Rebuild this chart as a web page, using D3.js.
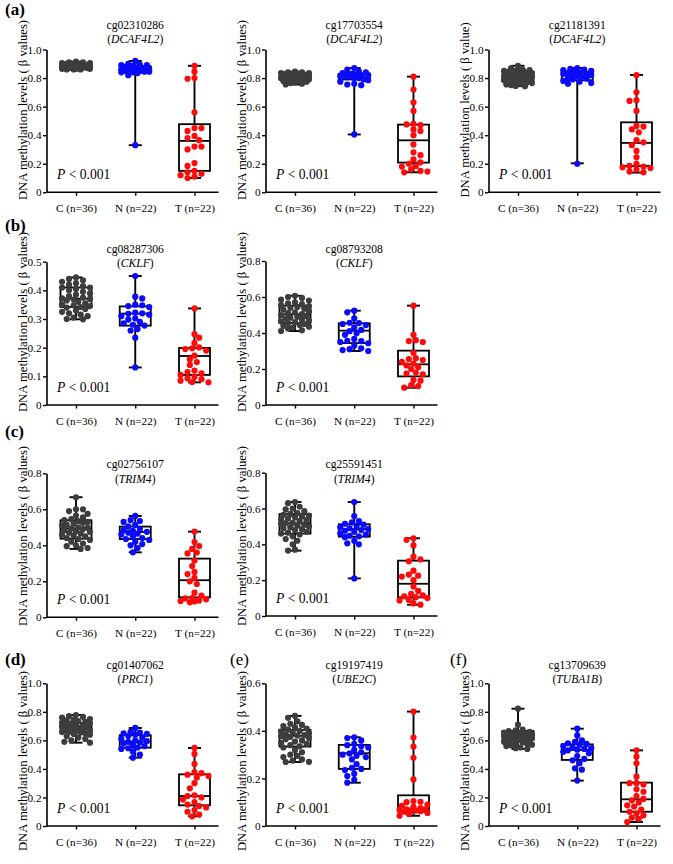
<!DOCTYPE html>
<html>
<head>
<meta charset="utf-8">
<script src="https://cdn.jsdelivr.net/npm/d3@7"></script>
<style>
  html, body { margin: 0; padding: 0; background: #fff; }
  svg { display: block; }
  text { font-family: "Liberation Serif", "Times New Roman", serif; fill: #000; }
</style>
</head>
<body>
<svg id="chart" width="673" height="864"></svg>
<script>
// ---------------- DATA ----------------
const categories = ["C (n=36)", "N (n=22)", "T (n=22)"];
const probes = ["cg02310286", "cg17703554", "cg21181391", "cg08287306", "cg08793208",
                "cg02756107", "cg25591451", "cg01407062", "cg19197419", "cg13709639"];
const genes = ["DCAF4L2", "DCAF4L2", "DCAF4L2", "CKLF", "CKLF", "TRIM4", "TRIM4", "PRC1", "UBE2C", "TUBA1B"];
const yLabels = ["DNA methylation levels ( \u03b2 values)", "DNA methylation levels ( \u03b2 values)",
                 "DNA methylation levels ( \u03b2 value)", "DNA methylation levels ( \u03b2 values)",
                 "DNA methylation levels ( \u03b2 values)", "DNA methylation levels ( \u03b2 values)",
                 "DNA methylation levels ( \u03b2 values)", "DNA methylation levels ( \u03b2 values)",
                 "DNA methylation levels ( \u03b2 values)", "DNA methylation levels ( \u03b2 values)"];
const yMax = [1.0, 1.0, 1.0, 0.5, 0.8, 0.8, 0.8, 1.0, 0.6, 1.0];
const yTickValues = [
  [0, 0.2, 0.4, 0.6, 0.8, 1.0], [0, 0.2, 0.4, 0.6, 0.8, 1.0], [0, 0.2, 0.4, 0.6, 0.8, 1.0],
  [0, 0.1, 0.2, 0.3, 0.4, 0.5], [0, 0.2, 0.4, 0.6, 0.8], [0, 0.2, 0.4, 0.6, 0.8],
  [0, 0.2, 0.4, 0.6, 0.8], [0, 0.2, 0.4, 0.6, 0.8, 1.0], [0, 0.2, 0.4, 0.6], [0, 0.2, 0.4, 0.6, 0.8, 1.0]
];
const pLabel = "< 0.001";
const panelLetters = ["(a)", "(b)", "(c)", "(d)", "(e)", "(f)"];

// points (beta values)
const cg02310286_C = [0.915,0.91,0.91,0.905,0.905,0.90,0.90,0.90,0.895,0.895,0.895,0.89,0.89,0.89,0.89,0.885,0.885,0.885,0.885,0.88,0.88,0.88,0.88,0.875,0.875,0.875,0.87,0.87,0.87,0.87,0.865,0.865,0.865,0.86,0.86,0.86];
const cg02310286_N = [0.92,0.90,0.895,0.89,0.89,0.885,0.88,0.875,0.87,0.865,0.86,0.86,0.855,0.85,0.85,0.845,0.845,0.84,0.84,0.835,0.82,0.33];
const cg02310286_T = [0.886,0.845,0.80,0.795,0.56,0.45,0.45,0.43,0.395,0.38,0.365,0.32,0.32,0.30,0.205,0.185,0.15,0.14,0.13,0.12,0.11,0.10];

const cg17703554_C = [0.845,0.84,0.84,0.835,0.835,0.83,0.83,0.83,0.825,0.825,0.82,0.82,0.815,0.815,0.81,0.81,0.81,0.805,0.805,0.80,0.80,0.80,0.795,0.795,0.79,0.79,0.79,0.785,0.785,0.78,0.78,0.775,0.77,0.765,0.76,0.755];
const cg17703554_N = [0.87,0.86,0.845,0.84,0.835,0.83,0.83,0.825,0.82,0.82,0.815,0.81,0.81,0.80,0.80,0.79,0.785,0.775,0.76,0.755,0.75,0.405];
const cg17703554_T = [0.81,0.72,0.63,0.57,0.48,0.475,0.47,0.44,0.43,0.40,0.335,0.28,0.26,0.23,0.21,0.20,0.185,0.18,0.16,0.15,0.145,0.14];

const cg21181391_C = [0.886,0.87,0.86,0.855,0.85,0.85,0.845,0.845,0.84,0.835,0.83,0.83,0.825,0.82,0.82,0.815,0.815,0.81,0.81,0.805,0.80,0.80,0.795,0.79,0.79,0.785,0.785,0.78,0.775,0.77,0.765,0.76,0.755,0.75,0.745,0.743];
const cg21181391_N = [0.87,0.865,0.86,0.855,0.85,0.845,0.84,0.835,0.83,0.83,0.825,0.82,0.815,0.81,0.80,0.795,0.79,0.78,0.775,0.765,0.76,0.20];
const cg21181391_T = [0.82,0.70,0.645,0.64,0.57,0.465,0.46,0.44,0.42,0.365,0.35,0.33,0.29,0.245,0.20,0.185,0.18,0.175,0.17,0.16,0.145,0.14];

const cg08287306_C = [0.445,0.44,0.435,0.43,0.425,0.42,0.415,0.41,0.41,0.405,0.40,0.395,0.39,0.385,0.38,0.375,0.372,0.37,0.368,0.365,0.36,0.355,0.35,0.348,0.345,0.342,0.34,0.335,0.33,0.325,0.32,0.315,0.31,0.305,0.30,0.299];
const cg08287306_N = [0.45,0.378,0.372,0.35,0.348,0.345,0.342,0.322,0.32,0.318,0.315,0.31,0.302,0.298,0.29,0.285,0.28,0.277,0.265,0.26,0.235,0.131];
const cg08287306_T = [0.337,0.247,0.235,0.217,0.201,0.198,0.195,0.19,0.172,0.16,0.15,0.14,0.12,0.115,0.11,0.105,0.099,0.093,0.09,0.085,0.08,0.079];

const cg08793208_C = [0.607,0.60,0.595,0.585,0.58,0.57,0.565,0.56,0.555,0.55,0.545,0.54,0.535,0.53,0.52,0.515,0.51,0.505,0.50,0.495,0.49,0.485,0.48,0.475,0.47,0.465,0.46,0.455,0.45,0.445,0.44,0.435,0.43,0.425,0.415,0.411];
const cg08793208_N = [0.524,0.515,0.481,0.457,0.455,0.45,0.444,0.431,0.417,0.41,0.398,0.39,0.367,0.357,0.355,0.35,0.343,0.33,0.315,0.31,0.305,0.30];
const cg08793208_T = [0.552,0.39,0.36,0.355,0.35,0.29,0.26,0.255,0.25,0.24,0.23,0.22,0.21,0.20,0.18,0.175,0.17,0.14,0.135,0.11,0.105,0.096];

const cg02756107_C = [0.667,0.60,0.60,0.59,0.575,0.565,0.555,0.545,0.54,0.535,0.53,0.525,0.52,0.515,0.51,0.50,0.497,0.494,0.49,0.485,0.48,0.475,0.47,0.465,0.46,0.455,0.45,0.44,0.435,0.43,0.42,0.41,0.40,0.395,0.385,0.38];
const cg02756107_N = [0.563,0.54,0.535,0.53,0.513,0.505,0.49,0.485,0.48,0.475,0.47,0.465,0.46,0.45,0.44,0.435,0.43,0.42,0.407,0.40,0.385,0.361];
const cg02756107_T = [0.476,0.418,0.396,0.38,0.36,0.355,0.315,0.285,0.252,0.24,0.219,0.20,0.185,0.137,0.12,0.106,0.105,0.10,0.095,0.09,0.088,0.083];

const cg25591451_C = [0.636,0.63,0.61,0.60,0.595,0.585,0.575,0.57,0.565,0.56,0.555,0.55,0.545,0.54,0.535,0.53,0.52,0.518,0.516,0.51,0.505,0.50,0.495,0.49,0.485,0.48,0.47,0.465,0.46,0.455,0.445,0.43,0.42,0.40,0.37,0.365];
const cg25591451_N = [0.636,0.558,0.53,0.523,0.515,0.51,0.502,0.495,0.49,0.485,0.48,0.476,0.47,0.46,0.455,0.448,0.445,0.44,0.42,0.406,0.40,0.21];
const cg25591451_T = [0.434,0.425,0.394,0.331,0.316,0.305,0.253,0.231,0.225,0.22,0.20,0.164,0.14,0.123,0.115,0.11,0.105,0.10,0.09,0.087,0.07,0.063];

const cg01407062_C = [0.778,0.77,0.765,0.76,0.75,0.745,0.74,0.735,0.73,0.725,0.72,0.715,0.71,0.705,0.70,0.695,0.692,0.69,0.688,0.685,0.68,0.675,0.67,0.665,0.66,0.658,0.655,0.65,0.645,0.64,0.63,0.62,0.61,0.60,0.59,0.584];
const cg01407062_N = [0.687,0.66,0.655,0.65,0.645,0.64,0.63,0.62,0.61,0.60,0.595,0.59,0.585,0.58,0.57,0.56,0.55,0.545,0.54,0.521,0.50,0.479];
const cg01407062_T = [0.547,0.505,0.435,0.378,0.37,0.36,0.35,0.339,0.30,0.264,0.215,0.21,0.20,0.185,0.168,0.15,0.14,0.13,0.112,0.10,0.08,0.068];

const cg19197419_C = [0.463,0.455,0.44,0.43,0.425,0.42,0.415,0.41,0.405,0.40,0.398,0.395,0.39,0.385,0.382,0.38,0.378,0.375,0.37,0.365,0.36,0.355,0.35,0.345,0.34,0.335,0.33,0.32,0.31,0.30,0.295,0.29,0.28,0.275,0.27,0.269];
const cg19197419_N = [0.373,0.37,0.36,0.345,0.34,0.335,0.33,0.32,0.31,0.305,0.30,0.295,0.29,0.28,0.26,0.245,0.24,0.235,0.22,0.21,0.194,0.182];
const cg19197419_T = [0.481,0.372,0.334,0.287,0.196,0.105,0.102,0.10,0.09,0.085,0.08,0.075,0.07,0.07,0.068,0.066,0.065,0.062,0.06,0.055,0.05,0.043];

const cg13709639_C = [0.822,0.71,0.675,0.67,0.665,0.66,0.655,0.65,0.648,0.645,0.64,0.638,0.635,0.633,0.63,0.628,0.625,0.62,0.618,0.615,0.61,0.608,0.605,0.603,0.60,0.595,0.59,0.585,0.58,0.575,0.57,0.565,0.56,0.55,0.545,0.54];
const cg13709639_N = [0.682,0.635,0.60,0.59,0.58,0.575,0.57,0.56,0.55,0.545,0.54,0.535,0.53,0.52,0.51,0.49,0.47,0.46,0.44,0.404,0.395,0.318];
const cg13709639_T = [0.53,0.486,0.439,0.346,0.30,0.30,0.29,0.257,0.24,0.21,0.19,0.18,0.165,0.145,0.136,0.115,0.10,0.089,0.075,0.058,0.05,0.028];

// box statistics [min, Q1, median, Q3, max] per group
const box_cg02310286 = [[0.86,0.872,0.885,0.895,0.915],[0.33,0.848,0.862,0.883,0.92],[0.10,0.15,0.36,0.477,0.886]];
const box_cg17703554 = [[0.755,0.79,0.808,0.827,0.845],[0.405,0.79,0.81,0.83,0.87],[0.14,0.208,0.364,0.474,0.81]];
const box_cg21181391 = [[0.743,0.785,0.813,0.843,0.886],[0.203,0.785,0.827,0.843,0.871],[0.138,0.185,0.346,0.49,0.822]];
const box_cg08287306 = [[0.299,0.342,0.371,0.41,0.445],[0.131,0.277,0.319,0.344,0.45],[0.079,0.105,0.171,0.199,0.337]];
const box_cg08793208 = [[0.411,0.456,0.504,0.552,0.607],[0.30,0.344,0.413,0.454,0.524],[0.096,0.159,0.226,0.302,0.552]];
const box_cg02756107 = [[0.38,0.437,0.494,0.539,0.667],[0.361,0.435,0.474,0.504,0.563],[0.083,0.111,0.206,0.326,0.476]];
const box_cg25591451 = [[0.365,0.46,0.517,0.569,0.636],[0.21,0.443,0.485,0.512,0.636],[0.063,0.104,0.18,0.309,0.434]];
const box_cg01407062 = [[0.584,0.659,0.692,0.72,0.778],[0.479,0.549,0.591,0.636,0.687],[0.068,0.145,0.21,0.362,0.547]];
const box_cg19197419 = [[0.269,0.334,0.379,0.404,0.463],[0.182,0.24,0.306,0.341,0.373],[0.043,0.06,0.067,0.129,0.481]];
const box_cg13709639 = [[0.54,0.603,0.633,0.666,0.822],[0.318,0.463,0.533,0.572,0.682],[0.028,0.1,0.187,0.304,0.53]];

const pointsByPanel = [
  [cg02310286_C, cg02310286_N, cg02310286_T], [cg17703554_C, cg17703554_N, cg17703554_T],
  [cg21181391_C, cg21181391_N, cg21181391_T], [cg08287306_C, cg08287306_N, cg08287306_T],
  [cg08793208_C, cg08793208_N, cg08793208_T], [cg02756107_C, cg02756107_N, cg02756107_T],
  [cg25591451_C, cg25591451_N, cg25591451_T], [cg01407062_C, cg01407062_N, cg01407062_T],
  [cg19197419_C, cg19197419_N, cg19197419_T], [cg13709639_C, cg13709639_N, cg13709639_T]
];
const boxesByPanel = [box_cg02310286, box_cg17703554, box_cg21181391, box_cg08287306, box_cg08793208,
  box_cg02756107, box_cg25591451, box_cg01407062, box_cg19197419, box_cg13709639];

// ---------------- LAYOUT ----------------
const groupColors = ["#3d3d3d", "#0a0aff", "#ff0a0a"];
// axis x, pixel of 0, pixel of yMax, title baselines, y-label centre
const layout = [
  {ax: 46.5,  y0: 192.3, yT: 49.5,  t1: 29,    t2: 42.5,  lc: 110},
  {ax: 265.5, y0: 192.3, yT: 49.5,  t1: 29,    t2: 42.5,  lc: 110},
  {ax: 488.5, y0: 192.3, yT: 49.5,  t1: 29,    t2: 42.5,  lc: 110},
  {ax: 46.5,  y0: 405,   yT: 261.7, t1: 253,   t2: 267,   lc: 322},
  {ax: 265.5, y0: 405,   yT: 261,   t1: 253,   t2: 267,   lc: 322},
  {ax: 46.5,  y0: 617.3, yT: 473.3, t1: 467.5, t2: 482.5, lc: 536},
  {ax: 265.5, y0: 616,   yT: 472.7, t1: 467.5, t2: 482.5, lc: 536},
  {ax: 46.5,  y0: 826,   yT: 683.3, t1: 669,   t2: 683,   lc: 761},
  {ax: 265.5, y0: 826,   yT: 683.3, t1: 669,   t2: 683,   lc: 761},
  {ax: 488.5, y0: 826,   yT: 683.3, t1: 669,   t2: 683,   lc: 761}
];
const letterPos = [
  {x: 5, y: 15, bold: true}, {x: 5, y: 231, bold: true}, {x: 5, y: 437, bold: true},
  {x: 5, y: 665, bold: true}, {x: 230, y: 665, bold: false}, {x: 450, y: 665, bold: false}
];

const svg = d3.select("#chart");
svg.append("rect").attr("width", 673).attr("height", 864).attr("fill", "#fff");

// beeswarm-style horizontal spread (layout only)
function swarm(vals, y, r, maxW) {
  const pts = vals.map(v => ({v, y: y(v)})).sort((a, b) => a.y - b.y);
  const placed = [];
  const d = 2 * r * 0.92;
  const step = r * 0.75;
  pts.forEach((p, i) => {
    let best = 0, bestScore = -Infinity, done = false;
    const sgn = i % 2 === 0 ? 1 : -1;
    for (let k = 0; k * step <= maxW && !done; k++) {
      const cands = k === 0 ? [0] : [sgn * k * step, -sgn * k * step];
      for (const x of cands) {
        let minD = Infinity;
        for (const q of placed) {
          const dd = Math.hypot(q.x - x, q.y - p.y);
          if (dd < minD) minD = dd;
        }
        if (minD >= d) { best = x; done = true; break; }
        if (minD > bestScore + 0.01) { bestScore = minD; best = x; }
      }
    }
    p.x = best;
    placed.push(p);
  });
  return pts;
}

const fmt = v => v === 0 ? "0" : d3.format(".1f")(v);

layout.forEach((L, pi) => {
  const g = svg.append("g");
  const y = d3.scaleLinear().domain([0, yMax[pi]]).range([L.y0, L.yT]);
  const x = d3.scalePoint().domain(categories).range([L.ax + 29.5, L.ax + 148]);

  // y axis
  const ya = g.append("g").attr("transform", `translate(${L.ax},0)`)
    .call(d3.axisLeft(y).tickValues(yTickValues[pi]).tickFormat(fmt).tickSize(3.5).tickSizeOuter(0).tickPadding(1.5));
  ya.select(".domain").attr("stroke-width", 1.6);
  ya.selectAll(".tick line").attr("stroke-width", 1.4);
  ya.selectAll(".tick text").attr("font-size", 11.2).attr("font-family", "Liberation Serif, serif");

  // x axis
  const xa = g.append("g").attr("transform", `translate(0,${L.y0})`)
    .call(d3.axisBottom(x).tickSize(3.5).tickSizeOuter(0));
  xa.select(".domain").attr("d", `M${L.ax},0H${L.ax + 172}`).attr("stroke-width", 1.6);
  xa.selectAll(".tick line").attr("stroke-width", 1.4);
  xa.selectAll(".tick text").attr("font-size", 11.2).attr("font-family", "Liberation Serif, serif")
    .attr("y", 19.5).attr("dy", 0);

  // title
  const cx = x(categories[1]);
  g.append("text").attr("x", cx).attr("y", L.t1).attr("text-anchor", "middle")
    .attr("font-size", 11.6).text(probes[pi]);
  g.append("text").attr("x", cx).attr("y", L.t2).attr("text-anchor", "middle")
    .attr("font-size", 11.6)
    .call(t => { t.append("tspan").text("(");
                 t.append("tspan").attr("font-style", "italic").text(genes[pi]);
                 t.append("tspan").text(")"); });

  // y label
  g.append("text")
    .attr("transform", `translate(${L.ax - 24},${L.lc}) rotate(-90)`)
    .attr("text-anchor", "middle").attr("dy", "0.35em")
    .attr("font-size", 12.7).text(yLabels[pi]);

  // P value
  g.append("text").attr("x", L.ax + 10.5).attr("y", L.y0 - 13).attr("font-size", 13.6)
    .call(t => { t.append("tspan").attr("font-style", "italic").text("P");
                 t.append("tspan").text(" " + pLabel); });

  // boxes
  categories.forEach((c, gi) => {
    const [mn, q1, md, q3, mx] = boxesByPanel[pi][gi];
    const xc = x(c);
    const bw = 31, cw = 13;
    const bg = g.append("g").attr("stroke", "#000").attr("fill", "none");
    bg.append("line").attr("x1", xc).attr("x2", xc).attr("y1", y(mx)).attr("y2", y(q3)).attr("stroke-width", 1.9);
    bg.append("line").attr("x1", xc).attr("x2", xc).attr("y1", y(q1)).attr("y2", y(mn)).attr("stroke-width", 1.9);
    bg.append("line").attr("x1", xc - cw / 2).attr("x2", xc + cw / 2).attr("y1", y(mx)).attr("y2", y(mx)).attr("stroke-width", 1.9);
    bg.append("line").attr("x1", xc - cw / 2).attr("x2", xc + cw / 2).attr("y1", y(mn)).attr("y2", y(mn)).attr("stroke-width", 1.9);
    bg.append("rect").attr("x", xc - bw / 2).attr("y", y(q3)).attr("width", bw)
      .attr("height", y(q1) - y(q3)).attr("stroke-width", 1.8);
    bg.append("line").attr("x1", xc - bw / 2).attr("x2", xc + bw / 2).attr("y1", y(md)).attr("y2", y(md)).attr("stroke-width", 1.8);

    // points
    const pts = swarm(pointsByPanel[pi][gi], y, 3.1, 16);
    g.append("g").selectAll("circle").data(pts).join("circle")
      .attr("cx", d => xc + d.x).attr("cy", d => d.y).attr("r", 3.1)
      .attr("fill", groupColors[gi]);
  });
});

// panel letters
panelLetters.forEach((l, i) => {
  svg.append("text").attr("x", letterPos[i].x).attr("y", letterPos[i].y)
    .attr("font-size", 17).attr("font-weight", letterPos[i].bold ? "bold" : "normal").text(l);
});
</script>
</body>
</html>
